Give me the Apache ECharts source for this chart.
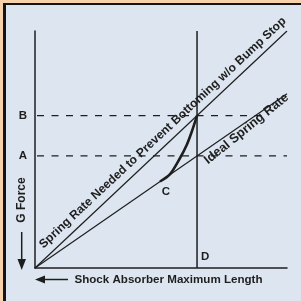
<!DOCTYPE html>
<html><head><meta charset="utf-8">
<script src="https://cdn.jsdelivr.net/npm/echarts@6/dist/echarts.min.js"></script>
<style>html,body{margin:0;padding:0;background:#dde6f0}#c{width:301px;height:301px}</style>
</head><body><div id="c"></div>
<script>
// ---- data (chart units 0..100 on both axes) ----
const neededLine = [[0, 0], [100, 100]];          // Spring Rate Needed to Prevent Bottoming
const idealLine = [[0, 0], [100, 73.5]];          // Ideal Spring Rate
const bottomingCurve = [[49.6, 36.5], [53.6, 39.6], [57.5, 46.3], [60.2, 51.9], [62.2, 57.5], [64.3, 64.3]];
const shockLine = [[64.3, 0], [64.3, 100]];       // D : shock absorber max length
const levelB = [[0.8, 64.3], [90, 64.3]];
const levelA = [[0.8, 47.3], [100, 47.3]];
const neededLabel = {text: 'Spring Rate Needed to Prevent Bottoming w/o Bump Stop', at: [50.7, 57.05], angle: 43};
const idealLabel = {text: 'Ideal Spring Rate', at: [83.9, 58.7], angle: 39};
const xTitle = 'Shock Absorber Maximum Length';
const yTitle = 'G Force';

const ink = '#1e1e1e';
const chart = echarts.init(document.getElementById('c'), null, {renderer: 'canvas'});
const lineSeries = (data, w, extra) => Object.assign({
  type: 'line', data: data, symbol: 'none', silent: true, animation: false,
  lineStyle: {color: ink, width: w}
}, extra || {});

chart.setOption({
  backgroundColor: '#dde6f0',
  animation: false,
  grid: {left: 35, right: 14, top: 31, bottom: 33},
  xAxis: {type: 'value', min: 0, max: 100, axisLine: {lineStyle: {color: ink, width: 1.5}},
    axisTick: {show: false}, axisLabel: {show: false}, splitLine: {show: false}},
  yAxis: {type: 'value', min: 0, max: 100, axisLine: {show: true, lineStyle: {color: ink, width: 1.5}},
    axisTick: {show: false}, axisLabel: {show: false}, splitLine: {show: false}},
  series: [
    lineSeries(levelB, 1.3, {lineStyle: {color: ink, width: 1.3, type: [7, 7.5]}}),
    lineSeries(levelA, 1.3, {lineStyle: {color: ink, width: 1.3, type: [7, 7.5]}}),
    lineSeries(neededLine, 1.2),
    lineSeries(idealLine, 1.2),
    lineSeries(shockLine, 1.5),
    lineSeries(bottomingCurve, 2.6, {smooth: 0.3})
  ]
});

const px = p => chart.convertToPixel({gridIndex: 0}, p);
const font = (s, w) => (w || 'bold') + ' ' + s + 'px "Liberation Sans", Arial, sans-serif';
const txt = (text, x, y, f, rot) => ({type: 'text', x: x, y: y, rotation: rot || 0, silent: true,
  style: {text: text, font: f, fill: ink, align: 'center', verticalAlign: 'middle', textAlign: 'center', textVerticalAlign: 'middle'}});

const pB = px(levelB[0]), pA = px(levelA[0]);
const pC = px(bottomingCurve[0]), pD = px(shockLine[0]);
const n = px(neededLabel.at), id = px(idealLabel.at);
const origin = px([0, 0]);

chart.setOption({graphic: [
  {type: 'rect', shape: {x: 0, y: 0, width: 301, height: 3}, style: {fill: '#f8d2a8'}},
  {type: 'rect', shape: {x: 0, y: 0, width: 3, height: 301}, style: {fill: '#f8d2a8'}},
  {type: 'rect', shape: {x: 3, y: 3, width: 298, height: 2}, style: {fill: '#151515'}},
  {type: 'rect', shape: {x: 3, y: 3, width: 3, height: 298}, style: {fill: '#151515'}},
  txt('B', pB[0] - 14, pB[1], font(11.5)),
  txt('A', pA[0] - 14, pA[1], font(11.5)),
  txt('C', pC[0] + 6, pC[1] + 10, font(11.5)),
  txt('D', pD[0] + 8, pD[1] - 11, font(11.5)),
  txt(neededLabel.text, n[0], n[1], font(12.1), neededLabel.angle * Math.PI / 180),
  txt(idealLabel.text, id[0], id[1], font(12.8), idealLabel.angle * Math.PI / 180),
  txt(yTitle, 22, 200, font(12), Math.PI / 2),
  {type: 'line', shape: {x1: 21.7, y1: 232, x2: 21.7, y2: 261}, style: {stroke: ink, lineWidth: 1.5}},
  {type: 'polygon', shape: {points: [[17.5, 259], [26, 259], [21.7, 270]]}, style: {fill: ink}},
  {type: 'line', shape: {x1: 44, y1: 279.5, x2: 68, y2: 279.5}, style: {stroke: ink, lineWidth: 1.5}},
  {type: 'polygon', shape: {points: [[origin[0], 279.5], [origin[0] + 10, 275.5], [origin[0] + 10, 283.5]]}, style: {fill: ink}},
  txt(xTitle, 168.5, 280, font(11.6))
]});
</script></body></html>
